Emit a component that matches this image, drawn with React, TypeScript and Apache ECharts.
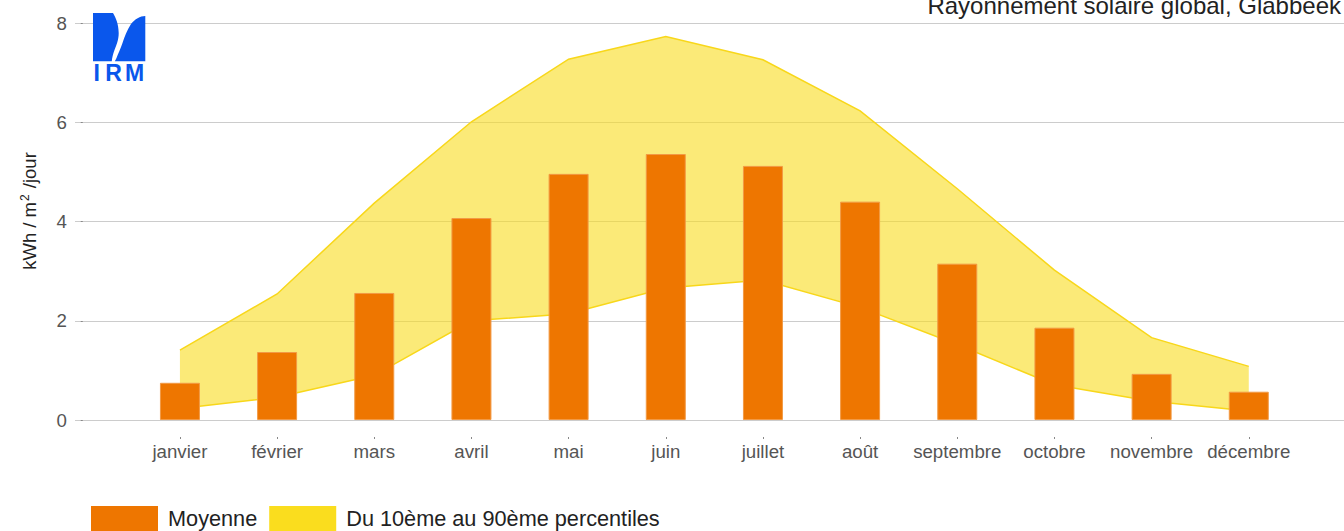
import React, { useEffect, useRef } from "react";
import * as echarts from "echarts";

const months = ["janvier", "février", "mars", "avril", "mai", "juin", "juillet", "août", "septembre", "octobre", "novembre", "décembre"];
const monthIndex = [1, 2, 3, 4, 5, 6, 7, 8, 9, 10, 11, 12];
const moyenne = [0.75, 1.37, 2.56, 4.07, 4.96, 5.36, 5.12, 4.40, 3.15, 1.86, 0.93, 0.57];
const p90 = [1.41, 2.54, 4.37, 6.01, 7.27, 7.73, 7.26, 6.23, 4.66, 3.02, 1.66, 1.08];
const p10 = [0.23, 0.46, 0.90, 2.00, 2.14, 2.66, 2.82, 2.27, 1.52, 0.71, 0.38, 0.18];
const yTicks = [0, 2, 4, 6, 8];

const TITLE = "Rayonnement solaire global, Glabbeek";
const NAME_MOY = "Moyenne";
const NAME_BAND = "Du 10ème au 90ème percentiles";
const Y_NAME = "kWh / m{sup|2} /jour";

const ORANGE = "#ee7600";
const YELLOW = "#fadd1e";
const LINE_YELLOW = "#f8d71a";
const FILL_YELLOW = "rgba(249, 220, 30, 0.6)";
const BLUE = "#0a57ec";
const FONT = "'Liberation Sans', Arial, sans-serif";

echarts.graphic.registerShape(
  "irmLeft",
  echarts.graphic.extendPath(
    "M0 0 L20 0 C23 5 25.5 11 25.7 20 C25.8 27 23 33 21.5 37 C20 41 19 45 18.8 48.3 L0 48.3 Z",
    {}
  )
);
echarts.graphic.registerShape(
  "irmRight",
  echarts.graphic.extendPath(
    "M52.3 3 C47 3 42 6 38 11 C34 17 31.5 24 29.5 30 C27.5 36 25 41 23.5 45 C22.8 46.5 22.2 47.5 21.8 48.3 L52.3 48.3 Z",
    {}
  )
);

export default function App() {
  const ref = useRef<HTMLDivElement>(null);

  useEffect(() => {
    if (!ref.current) return;
    const chart = echarts.init(ref.current, undefined, { renderer: "svg" });
    const xMin = -0.08;
    const xMax = 12.98;

    const option: any = {
      animation: false,
      textStyle: { fontFamily: FONT },
      title: {
        text: TITLE,
        right: 3,
        top: -7,
        padding: 0,
        textStyle: { fontSize: 24, fontWeight: "normal", color: "#222", fontFamily: FONT },
      },
      grid: { left: 75, right: 0, top: 23, bottom: 111, containLabel: false },
      legend: {
        left: 91,
        top: 506,
        padding: 0,
        itemWidth: 67,
        itemHeight: 25,
        itemGap: 12,
        icon: "rect",
        textStyle: { fontSize: 21.7, color: "#222", fontFamily: FONT, padding: [0, 0, 0, 5] },
        data: [
          { name: NAME_MOY, itemStyle: { color: ORANGE, borderWidth: 0 } },
          { name: NAME_BAND, itemStyle: { color: YELLOW, borderWidth: 0 } },
        ],
      },
      xAxis: [
        {
          type: "value",
          min: xMin,
          max: xMax,
          splitLine: { show: false },
          axisLine: { show: false },
          axisTick: { show: false },
          axisLabel: {
            customValues: monthIndex,
            formatter: (v: number) => months[Math.round(v) - 1] ?? "",
            color: "#555",
            fontSize: 18.7,
            margin: 22,
            fontFamily: FONT,
          },
        },
        {
          type: "value",
          min: xMin,
          max: xMax,
          position: "bottom",
          offset: 17,
          splitLine: { show: false },
          axisLine: { show: false },
          axisLabel: { show: false },
          axisTick: { show: true, customValues: monthIndex, length: 2, lineStyle: { color: "#888" } },
        },
      ],
      yAxis: {
        type: "value",
        min: 0,
        max: 8,
        interval: 2,
        axisLine: { show: false },
        axisTick: { show: true, length: 2, lineStyle: { color: "#888" } },
        splitLine: { show: true, lineStyle: { color: "#cccccc", width: 1 } },
        axisLabel: {
          color: "#555",
          fontSize: 18.7,
          margin: 8,
          fontFamily: FONT,
          customValues: yTicks,
        },
        name: Y_NAME,
        nameLocation: "middle",
        nameGap: 35,
        nameTextStyle: {
          color: "#222",
          fontSize: 18.5,
          fontFamily: FONT,
          padding: [0, 0, 0, 21],
          rich: {
            sup: { fontSize: 12, color: "#222", padding: [0, 1, 9, 1], fontFamily: FONT },
          },
        },
      },
      series: [
        {
          name: NAME_BAND,
          type: "custom",
          xAxisIndex: 0,
          yAxisIndex: 0,
          z: 1,
          silent: true,
          itemStyle: { color: YELLOW },
          encode: { x: 0, y: [1, 2] },
          data: monthIndex.map((m, i) => [m, p10[i], p90[i]]),
          renderItem: (params: any, api: any) => {
            if (params.dataIndex !== 0) return null;
            const upper = monthIndex.map((m, i) => api.coord([m, p90[i]]));
            const lower = monthIndex.map((m, i) => api.coord([m, p10[i]]));
            const poly = upper.concat(lower.slice().reverse());
            return {
              type: "group",
              children: [
                { type: "polygon", shape: { points: poly }, style: { fill: FILL_YELLOW, stroke: "none" } },
                { type: "polyline", shape: { points: upper }, style: { fill: "none", stroke: LINE_YELLOW, lineWidth: 1.5 } },
                { type: "polyline", shape: { points: lower }, style: { fill: "none", stroke: LINE_YELLOW, lineWidth: 1.5 } },
              ],
            };
          },
        },
        {
          name: NAME_MOY,
          type: "bar",
          xAxisIndex: 0,
          yAxisIndex: 0,
          z: 3,
          barWidth: 40,
          itemStyle: { color: ORANGE, borderColor: "#f29a45", borderWidth: 1 },
          data: monthIndex.map((m, i) => [m, moyenne[i]]),
        },
      ],
      graphic: [
        { type: "irmLeft", x: 93, y: 13, z: 10, style: { fill: BLUE } },
        { type: "irmRight", x: 93, y: 13, z: 10, style: { fill: BLUE } },
        { type: "text", x: 96.8, y: 72.7, z: 10, style: { text: "I", fill: BLUE, fontSize: 23, fontWeight: "bold", fontFamily: FONT, align: "center", verticalAlign: "middle" } },
        { type: "text", x: 113.5, y: 72.7, z: 10, style: { text: "R", fill: BLUE, fontSize: 23, fontWeight: "bold", fontFamily: FONT, align: "center", verticalAlign: "middle" } },
        { type: "text", x: 134.5, y: 72.7, z: 10, style: { text: "M", fill: BLUE, fontSize: 23, fontWeight: "bold", fontFamily: FONT, align: "center", verticalAlign: "middle" } },
      ],
    };

    chart.setOption(option);
    return () => chart.dispose();
  }, []);

  return (
    <div
      ref={ref}
      style={{ position: "absolute", left: 0, top: 0, width: 1344, height: 531 }}
    />
  );
}
